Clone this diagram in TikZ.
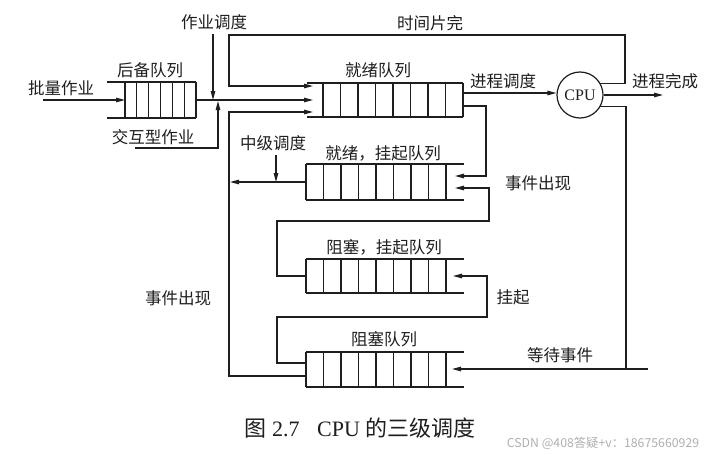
\documentclass[tikz,border=0pt]{standalone}
\usepackage{fontspec}
\setmainfont{Liberation Serif}
\newfontfamily\cjk{Noto Sans CJK SC}
\usetikzlibrary{arrows.meta,calc}
\definecolor{ink}{HTML}{1E1E1E}
\definecolor{wmark}{HTML}{B0B0B0}
\tikzset{
  ar/.style={-{Triangle[length=9pt,width=4.5pt]}},
  qbox/.style={draw=none,inner sep=0pt,outer sep=0pt,rectangle},
  lbl/.style={font=\cjk\fontsize{16.5}{18}\selectfont,inner sep=0pt,text=ink},
}
\newcommand\qcells[3]{% node name, number of cells, cell width
  \foreach \i in {0,...,#2}{
    \draw ($(#1.north west)+(\i*#3,0)$) -- ($(#1.south west)+(\i*#3,0)$);
  }}
\begin{document}
\begin{tikzpicture}[x=1pt,y=-1pt,line width=1.2pt,draw=ink,line cap=butt]
\useasboundingbox[fill=white] (0,0) rectangle (728,455);

% ---------- queues ----------
\node[qbox,minimum width=71pt,minimum height=36pt] (B) at (160.5,100) {};
\qcells{B}{6}{11.8333}
\draw ($(B.north west)+(-18,0)$) -- (B.north east);
\draw ($(B.south west)+(-18,0)$) -- (B.south east);

\node[qbox,minimum width=140pt,minimum height=34pt] (R) at (393,100) {};
\qcells{R}{8}{17.5}
\draw ($(R.north west)+(-16,0)$) -- (R.north east);
\draw ($(R.south west)+(-16,0)$) -- (R.south east);

\node[qbox,minimum width=140pt,minimum height=36pt] (RS) at (376,182) {};
\qcells{RS}{8}{17.5}
\draw (RS.north west) -- ($(RS.north east)+(18,0)$);
\draw (RS.south west) -- ($(RS.south east)+(18,0)$);

\node[qbox,minimum width=140pt,minimum height=34pt] (BS) at (376,276) {};
\qcells{BS}{8}{17.5}
\draw (BS.north west) -- ($(BS.north east)+(18,0)$);
\draw (BS.south west) -- ($(BS.south east)+(18,0)$);

\node[qbox,minimum width=140pt,minimum height=35pt] (BL) at (376,369.5) {};
\qcells{BL}{8}{17.5}
\draw (BL.north west) -- ($(BL.north east)+(18,0)$);
\draw (BL.south west) -- ($(BL.south east)+(18,0)$);

\node[draw,circle,minimum size=46pt,inner sep=0pt,font=\fontsize{16}{16}\selectfont,text=ink] (CPU) at (580,95) {CPU};

% ---------- labels ----------
\node[lbl] (lJob) at (214,22) {作业调度};
\node[lbl] (lBak) at (150,70) {后备队列};
\node[lbl] (lBat) at (61,88) {批量作业};
\node[lbl] (lInt) at (153,137) {交互型作业};
\node[lbl] (lTs) at (430,23) {时间片完};
\node[lbl] (lRq) at (378,70) {就绪队列};
\node[lbl] (lPs) at (503,81) {进程调度};
\node[lbl] (lDone) at (665,81) {进程完成};
\node[lbl] (lMid) at (273,143) {中级调度};
\node[lbl] (lRS) at (383,153) {就绪，挂起队列};
\node[lbl] (lEv1) at (538,183) {事件出现};
\node[lbl] (lBS) at (384,247) {阻塞，挂起队列};
\node[lbl] (lSus) at (513,297) {挂起};
\node[lbl] (lEv2) at (178,298) {事件出现};
\node[lbl] (lBL) at (384,339) {阻塞队列};
\node[lbl] (lWait) at (560,355) {等待事件};
\node[inner sep=0pt,text=ink,font=\fontsize{22}{23}\selectfont] (cap) at (360,428) {{\cjk 图} 2.7\hspace{0.8em}CPU {\cjk 的三级调度}};
\node[inner sep=0pt,text=wmark,font=\cjk\fontsize{12.3}{13}\selectfont] (wm) at (603,443) {CSDN @408答疑+v：18675660929};

% ---------- coordinates ----------
\coordinate (bat) at (43,100);
\coordinate (Rin1) at (313,86);
\coordinate (Rin2) at (313,100);
\coordinate (Rin3) at (313,112);
\coordinate (jsTop) at (213,34);
\coordinate (ia) at (135,148);
\coordinate (iaUp) at (218,101);
\coordinate (tsR) at (625,35);
\coordinate (tsL) at (229,35);
\coordinate (Rout) at (463,93);
\coordinate (done) at (663,95);
\coordinate (wR) at (648,369);
\coordinate (wJ) at (626,369);
\coordinate (BLin) at (452,369);
\coordinate (Rsus) at (463,106);
\coordinate (c1) at (486,176);
\coordinate (RSin1) at (455,176);
\coordinate (RSin2) at (455,188);
\coordinate (k1) at (277,221);
\coordinate (k2) at (489,221);
\coordinate (BLo1) at (306,363);
\coordinate (BLo2) at (306,376);
\coordinate (m1) at (277,317);
\coordinate (m2) at (487,317);
\coordinate (BSin) at (453,276);
\coordinate (n1) at (229,112);
\coordinate (RSo) at (230,182);
\coordinate (mid) at (276,155);

% ---------- connectors ----------
\draw[ar] (bat) -- (B.west);
\draw[ar] (B.east) -- (Rin2);
\draw[ar] (jsTop) -- (jsTop |- B.east);
\draw[ar] (ia) -| (iaUp);
\draw[ar] (CPU.30) -| (tsR) -- (tsL) |- (Rin1);
\draw[ar] (Rout) -- (Rout -| CPU.west);
\draw[ar] (CPU.east) -- (done);
\draw (CPU.-30) -| (wJ);
\draw[ar] (wR) -- (BLin);
\draw[ar] (Rsus) -| (c1) -- (RSin1);
\draw[ar] (BS.west) -| (k1) -- (k2) |- (RSin2);
\draw[ar] (BLo1) -| (m1) -- (m2) |- (BSin);
\draw[ar] (BLo2) -| (n1) -- (Rin3);
\draw[ar] (RS.west) -- (RSo);
\draw[ar] (mid) -- (mid |- RS.west);
\end{tikzpicture}
\end{document}
